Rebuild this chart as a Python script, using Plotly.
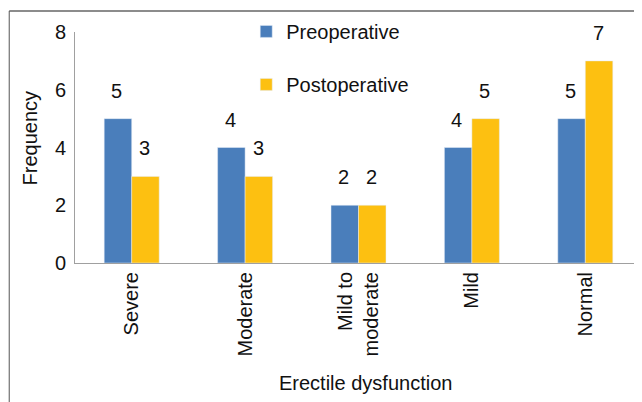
import plotly.graph_objects as go

categories = ["Severe", "Moderate", "Mild to<br>moderate", "Mild", "Normal"]
preoperative = [5, 4, 2, 4, 5]
postoperative = [3, 3, 2, 5, 7]
y_ticks = [0, 2, 4, 6, 8]

BLUE = "#4A7EBB"
YELLOW = "#FDC011"
FONT = "Liberation Sans, Arial, sans-serif"
FS = 20

fig = go.Figure()
fig.add_trace(go.Bar(name="Preoperative", x=categories, y=preoperative,
                     marker_color=BLUE, legendgroup="a"))
fig.add_trace(go.Bar(name="Postoperative", x=categories, y=postoperative,
                     marker_color=YELLOW, legendgroup="b"))

annotations = []
for cat, v in zip(categories, preoperative):
    annotations.append(dict(x=cat, y=v, text=str(v), showarrow=False, xshift=-15, yshift=28,
                            font=dict(size=FS, color="#111")))
for cat, v in zip(categories, postoperative):
    annotations.append(dict(x=cat, y=v, text=str(v), showarrow=False, xshift=13, yshift=28,
                            font=dict(size=FS, color="#111")))
annotations.append(dict(xref="paper", yref="paper", x=0.513, y=-0.52, xanchor="center",
                        yanchor="middle", text="Erectile dysfunction",
                        showarrow=False, font=dict(size=FS, color="#111")))
annotations.append(dict(xref="paper", yref="paper", x=-0.079, y=0.54, xanchor="center",
                        yanchor="middle", text="Frequency",
                        textangle=-90, showarrow=False, font=dict(size=FS, color="#111")))

fig.update_layout(
    width=634, height=394,
    margin=dict(l=67, r=0, t=24, b=139, autoexpand=False),
    paper_bgcolor="white", plot_bgcolor="white",
    font=dict(family=FONT, size=FS, color="#111"),
    barmode="group", bargap=0.515, bargroupgap=0,
    showlegend=True,
    legend=dict(x=0.302, y=1.087, xanchor="left", yanchor="top", tracegroupgap=24,
                font=dict(size=FS), bgcolor="rgba(0,0,0,0)", itemwidth=30),
    annotations=annotations,
    shapes=[
        dict(type="line", xref="paper", yref="paper", x0=-0.116, x1=1.0, y0=1.091, y1=1.091,
             line=dict(color="#8c8c8c", width=2)),
        dict(type="line", xref="paper", yref="paper", x0=-0.116, x1=-0.116, y0=1.091, y1=-0.61,
             line=dict(color="#555", width=1)),
    ],
)
fig.update_xaxes(showline=True, linecolor="#a0a0a0", linewidth=1, tickangle=-90,
                 ticks="", showgrid=False, tickfont=dict(size=FS), automargin=False)
fig.update_yaxes(range=[0, 8], tickvals=y_ticks, showline=True, linecolor="#a0a0a0",
                 linewidth=1, ticks="", showgrid=False, zeroline=False, automargin=False,
                 tickfont=dict(size=FS), ticklabelstandoff=4)

fig.write_html("out.html")
